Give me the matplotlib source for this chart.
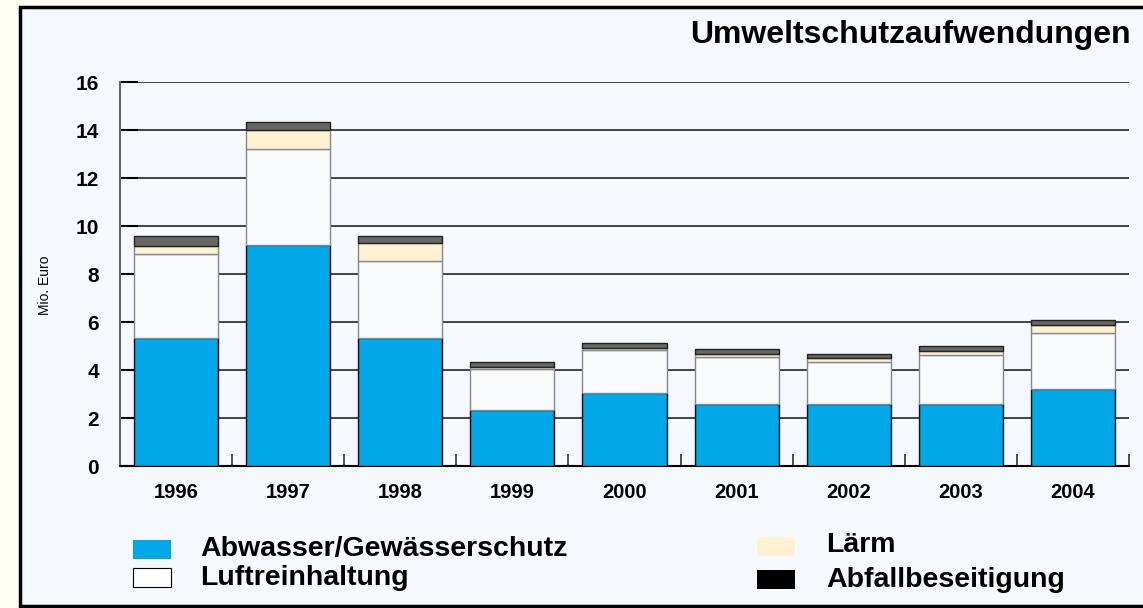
import matplotlib
matplotlib.use("Agg")
import matplotlib.pyplot as plt
from matplotlib.patches import Rectangle
import numpy as np

plt.rcParams['font.family'] = ['Liberation Sans', 'DejaVu Sans']

years = ["1996", "1997", "1998", "1999", "2000", "2001", "2002", "2003", "2004"]
abwasser = [5.33, 9.21, 5.33, 2.33, 3.05, 2.57, 2.57, 2.57, 3.20]
luft = [3.52, 4.01, 3.22, 1.72, 1.78, 1.98, 1.75, 2.04, 2.36]
laerm = [0.30, 0.77, 0.74, 0.09, 0.07, 0.10, 0.18, 0.19, 0.33]
abfall = [0.42, 0.33, 0.29, 0.21, 0.24, 0.21, 0.18, 0.20, 0.18]
yticks = [0, 2, 4, 6, 8, 10, 12, 14, 16]

W, H = 1143, 608
fig = plt.figure(figsize=(W / 100, H / 100), dpi=100)
fig.patch.set_facecolor('#FFFFF2')

panel_col = '#F5F9FD'
fig.patches.append(Rectangle((20 / W, 0.004), 1.2, 1 - 7 / H - 0.004, transform=fig.transFigure,
                             facecolor=panel_col, edgecolor='black', linewidth=2.5, zorder=-5))

ax = fig.add_axes([120 / W, 1 - 466 / H, (1129 - 120) / W, (466 - 82) / H])
ax.patch.set_alpha(0)

x = np.arange(len(years))
w = 0.75
b1 = np.array(abwasser)
b2 = b1 + np.array(luft)
b3 = b2 + np.array(laerm)
ax.bar(x, abwasser, w, color='#00A8E8', edgecolor='black', linewidth=1.0, zorder=3)
ax.bar(x, luft, w, bottom=b1, color='#F8FAFC', edgecolor='#888888', linewidth=1.0, zorder=3)
ax.bar(x, laerm, w, bottom=b2, color='#FFF2D3', edgecolor='#888888', linewidth=1.0, zorder=3)
ax.bar(x, abfall, w, bottom=b3, color='#666666', edgecolor='#222222', linewidth=1.0, zorder=3)

ax.set_xlim(-0.5, len(years) - 0.5)
ax.set_ylim(0, 16)
ax.set_yticks(yticks)
ax.set_yticklabels([str(t) for t in yticks], fontsize=15, fontweight='bold')
for t in yticks[1:]:
    ax.axhline(t, color='#444444', linewidth=1.4, zorder=1)
ax.tick_params(axis='y', direction='in', length=13, width=1.5, color='black', pad=15)
ax.set_xticks(np.arange(-0.5, len(years), 1.0))
ax.set_xticklabels([''] * (len(years) + 1))
ax.tick_params(axis='x', direction='in', length=9, width=1.2, color='#333333')
for i, yr in enumerate(years):
    ax.text(i, -0.72, yr, ha='center', va='top', fontsize=14.5, fontweight='bold')

for s in ['top', 'right']:
    ax.spines[s].set_visible(False)
ax.spines['left'].set_color('#666666')
ax.spines['left'].set_linewidth(1.5)
ax.spines['bottom'].set_color('black')
ax.spines['bottom'].set_linewidth(1.5)

fig.text(45 / W, 1 - 285 / H, 'Mio. Euro', rotation=90, ha='center', va='center', fontsize=10)
fig.text(1131 / W, 1 - 35 / H, 'Umweltschutzaufwendungen', ha='right', va='center',
         fontsize=23, fontweight='bold')

legend_items = [
    ('Abwasser/Gewässerschutz', '#00A8E8', 'none', 133, 540, 200, 549),
    ('Luftreinhaltung', '#FFFFFF', 'black', 133, 568, 200, 578),
    ('Lärm', '#FFF2D3', 'none', 757, 537, 826, 545),
    ('Abfallbeseitigung', '#000000', 'none', 757, 570, 826, 580),
]
for label, fc, ec, sx, sy, tx, ty in legend_items:
    fig.patches.append(Rectangle((sx / W, 1 - (sy + 19) / H), 38 / W, 19 / H,
                                 transform=fig.transFigure, facecolor=fc, edgecolor=ec,
                                 linewidth=0.8, zorder=2))
    fig.text(tx / W, 1 - ty / H, label, ha='left', va='center', fontsize=20.5, fontweight='bold')

fig.savefig('out.png', dpi=100, facecolor=fig.get_facecolor())
